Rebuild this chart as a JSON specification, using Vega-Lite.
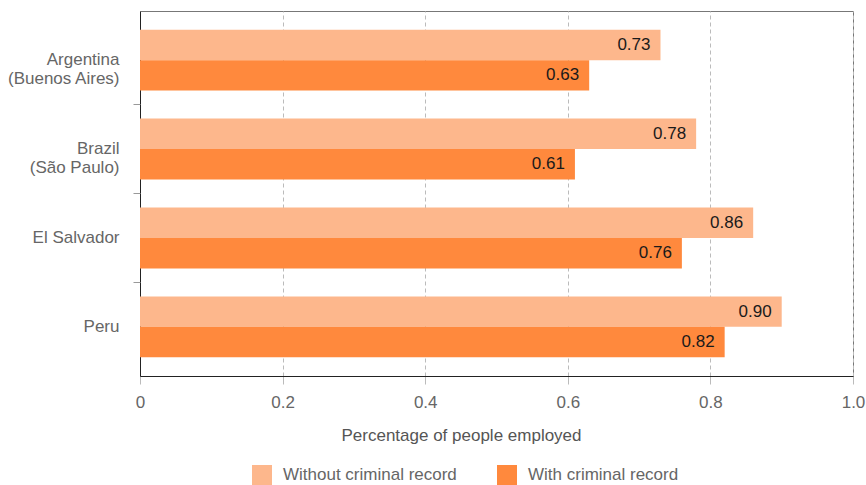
{
  "$schema": "https://vega.github.io/schema/vega-lite/v6.json",
  "width": 713,
  "height": 365,
  "autosize": {"type": "none"},
  "padding": {"left": 140, "top": 11, "right": 13, "bottom": 109},
  "config": {
    "font": "Liberation Sans",
    "view": {"stroke": "#777", "strokeWidth": 1}
  },
  "data": {
    "values": [
      {"country": "Argentina", "group": "Without criminal record", "value": 0.73},
      {"country": "Argentina", "group": "With criminal record", "value": 0.63},
      {"country": "Brazil", "group": "Without criminal record", "value": 0.78},
      {"country": "Brazil", "group": "With criminal record", "value": 0.61},
      {"country": "El Salvador", "group": "Without criminal record", "value": 0.86},
      {"country": "El Salvador", "group": "With criminal record", "value": 0.76},
      {"country": "Peru", "group": "Without criminal record", "value": 0.90},
      {"country": "Peru", "group": "With criminal record", "value": 0.82}
    ]
  },
  "encoding": {
    "x": {
      "field": "value",
      "type": "quantitative",
      "scale": {"domain": [0, 1], "nice": false},
      "axis": {
        "values": [0, 0.2, 0.4, 0.6, 0.8, 1],
        "labelExpr": "datum.value == 0 ? '0' : format(datum.value, '.1f')",
        "title": "Percentage of people employed",
        "titleFontSize": 17,
        "titleFontWeight": "normal",
        "titleColor": "#555",
        "titlePadding": 17,
        "titleX": 321,
        "labelFontSize": 17,
        "labelColor": "#666",
        "labelPadding": 10,
        "labelFlush": false,
        "grid": true,
        "gridDash": [4, 3],
        "gridColor": "#bbb",
        "ticks": true,
        "tickSize": 8,
        "tickColor": "#bbb",
        "domain": true,
        "domainColor": "#222"
      }
    },
    "yOffset": {
      "field": "group",
      "type": "nominal",
      "sort": ["Without criminal record", "With criminal record"]
    },
    "color": {
      "field": "group",
      "type": "nominal",
      "scale": {
        "domain": ["Without criminal record", "With criminal record"],
        "range": ["#FDB78C", "#FF893D"]
      },
      "legend": {
        "title": null,
        "orient": "none",
        "direction": "horizontal",
        "legendX": 112,
        "legendY": 454,
        "symbolType": "square",
        "symbolSize": 400,
        "symbolStrokeWidth": 0,
        "symbolOpacity": 1,
        "labelFontSize": 17,
        "labelColor": "#666",
        "labelOffset": 11,
        "columnPadding": 40,
        "labelLimit": 300
      }
    }
  },
  "layer": [
    {
      "mark": {"type": "bar"},
      "encoding": {
        "y": {
          "field": "country",
          "type": "nominal",
          "sort": ["Argentina", "Brazil", "El Salvador", "Peru"],
          "scale": {"paddingInner": 0.315, "paddingOuter": 0.21},
          "axis": {
            "title": null,
            "ticks": false,
            "domain": true,
            "domainColor": "#222",
            "labelFontSize": 17,
            "labelColor": "#666",
            "labelPadding": 21,
            "labelLineHeight": 19,
            "labelExpr": "datum.value == 'Argentina' ? ['Argentina\u00a0', '(Buenos Aires)'] : datum.value == 'Brazil' ? ['Brazil\u00a0', '(São Paulo)'] : datum.value"
          }
        }
      }
    },
    {
      "mark": {"type": "text", "align": "right", "baseline": "middle", "dx": -10, "fontSize": 17, "color": "#1a1a1a"},
      "encoding": {
        "y": {
          "field": "country",
          "type": "nominal",
          "sort": ["Argentina", "Brazil", "El Salvador", "Peru"],
          "scale": {"paddingInner": 0.315, "paddingOuter": 0.21},
          "axis": {
            "orient": "left",
            "title": null,
            "labels": false,
            "domain": false,
            "grid": false,
            "ticks": true,
            "tickSize": 7,
            "tickColor": "#999",
            "values": ["Brazil", "El Salvador", "Peru"],
            "bandPosition": -0.23
          }
        },
        "text": {"field": "value", "type": "quantitative", "format": ".2f"},
        "color": {"value": "#1a1a1a"}
      }
    }
  ],
  "resolve": {"axis": {"y": "independent"}}
}
